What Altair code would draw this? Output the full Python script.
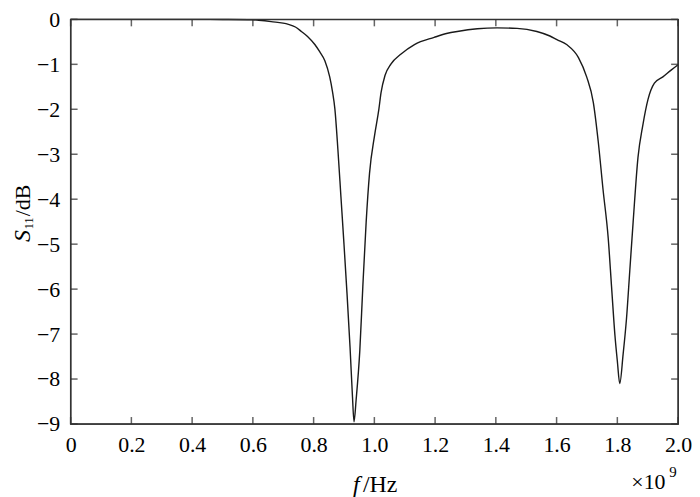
import altair as alt
import pandas as pd

# Frequency (x 1e9 Hz) and S11 (dB)
freq = [0.0, 0.1, 0.2, 0.3, 0.4, 0.5, 0.6, 0.619, 0.66, 0.717, 0.74, 0.76, 0.78, 0.804, 0.82,
        0.837, 0.853, 0.862, 0.870, 0.880, 0.890, 0.900, 0.910, 0.920, 0.928, 0.933,
        0.940, 0.952, 0.962, 0.973, 0.984, 1.001, 1.015, 1.022, 1.035, 1.055, 1.088,
        1.132, 1.197, 1.241, 1.273, 1.339, 1.404, 1.470, 1.535, 1.578, 1.601,
        1.633, 1.672, 1.699, 1.721, 1.737, 1.753, 1.770, 1.781, 1.792, 1.800,
        1.808, 1.819, 1.830, 1.841, 1.852, 1.868, 1.884, 1.901, 1.922, 1.950,
        1.977, 2.0]
s11 = [0.0, 0.0, 0.0, 0.0, 0.0, -0.003, -0.01, -0.02, -0.05, -0.11, -0.17, -0.27, -0.38, -0.56, -0.72,
       -0.92, -1.28, -1.6, -1.99, -2.9, -3.95, -5.0, -6.1, -7.3, -8.4, -8.95,
       -8.46, -7.38, -5.95, -4.51, -3.43, -2.57, -1.99, -1.63, -1.25, -0.99, -0.77,
       -0.56, -0.40, -0.31, -0.27, -0.21, -0.19, -0.20, -0.27, -0.37, -0.45,
       -0.56, -0.85, -1.28, -1.85, -2.71, -3.79, -4.87, -5.95, -7.02, -7.6,
       -8.10, -7.45, -6.67, -5.59, -4.51, -3.07, -2.35, -1.78, -1.42, -1.28,
       -1.13, -1.01]

x_ticks = [0.0, 0.2, 0.4, 0.6, 0.8, 1.0, 1.2, 1.4, 1.6, 1.8, 2.0]
y_ticks = [0, -1, -2, -3, -4, -5, -6, -7, -8, -9]

W, H = 611, 407
FONT = "Liberation Serif"
INK = "#222222"
TL = 7  # inward tick length

df = pd.DataFrame({"f": freq, "s": s11})
dx = pd.DataFrame({"t": x_ticks})
dy = pd.DataFrame({"t": y_ticks})

xs = alt.Scale(domain=[0, 2.0], nice=False, zero=False)
ys = alt.Scale(domain=[-9, 0], nice=False, zero=False)

line = alt.Chart(df).mark_line(color="#1a1a1a", strokeWidth=1.4, interpolate="monotone").encode(
    x=alt.X("f:Q", scale=xs,
            axis=alt.Axis(values=x_ticks, title=None, domain=False, ticks=False, grid=False,
                          labelFont=FONT, labelFontSize=22, labelColor="#000", labelPadding=11,
                          labelFlush=False, labelOverlap=False,
                          labelExpr="datum.value == 0 ? '0' : format(datum.value, '.1f')")),
    y=alt.Y("s:Q", scale=ys,
            axis=alt.Axis(values=y_ticks, title=None, domain=False, ticks=False, grid=False,
                          labelFont=FONT, labelFontSize=22, labelColor="#000", labelPadding=11,
                          labelFlush=False, labelOverlap=False, format="d")),
)

# inward ticks on all four sides (each tick centred half a tick length inside the frame)
bot = alt.Chart(dx).mark_tick(color=INK, thickness=1.5, orient="vertical", size=TL).encode(
    x=alt.X("t:Q", scale=xs), y=alt.value(H - TL / 2))
top = alt.Chart(dx).mark_tick(color=INK, thickness=1.5, orient="vertical", size=TL).encode(
    x=alt.X("t:Q", scale=xs), y=alt.value(TL / 2))
left = alt.Chart(dy).mark_tick(color=INK, thickness=1.5, orient="horizontal", size=TL).encode(
    y=alt.Y("t:Q", scale=ys), x=alt.value(TL / 2))
right = alt.Chart(dy).mark_tick(color=INK, thickness=1.5, orient="horizontal", size=TL).encode(
    y=alt.Y("t:Q", scale=ys), x=alt.value(W - TL / 2))

frame = alt.Chart(pd.DataFrame({"k": [0]})).mark_rect(
    fill=None, fillOpacity=0, stroke="#333333", strokeWidth=1.4).encode(
    x=alt.value(0), x2=alt.value(W), y=alt.value(0), y2=alt.value(H))


def txt(s, x, y, size, italic=False, angle=0, align="left"):
    kw = dict(font=FONT, fontSize=size, color="#000", align=align, baseline="alphabetic")
    if italic:
        kw["fontStyle"] = "italic"
    if angle:
        kw["angle"] = angle
    return alt.Chart(pd.DataFrame({"t": [s]})).mark_text(**kw).encode(
        text="t:N", x=alt.value(x), y=alt.value(y))


titles = [
    txt("S", -41, 224, 24, italic=True, angle=270),
    txt("11", -38, 211, 12, angle=270),
    txt("/dB", -41, 198, 22, angle=270),
    txt("f", 284, 475, 24, italic=True),
    txt("/Hz", 294, 475, 24),
    txt("×10", 564, 472, 22),
    txt("9", 602, 460, 15),
]

chart = alt.layer(line, bot, top, left, right, frame, *titles).properties(
    width=W, height=H,
    autosize=alt.AutoSizeParams(type="none"),
    padding={"left": 63, "top": 10, "right": 14, "bottom": 72},
).configure_view(stroke="#333333", strokeWidth=1.3)

chart.save("out.html", embed_options={"renderer": "svg", "actions": False})
